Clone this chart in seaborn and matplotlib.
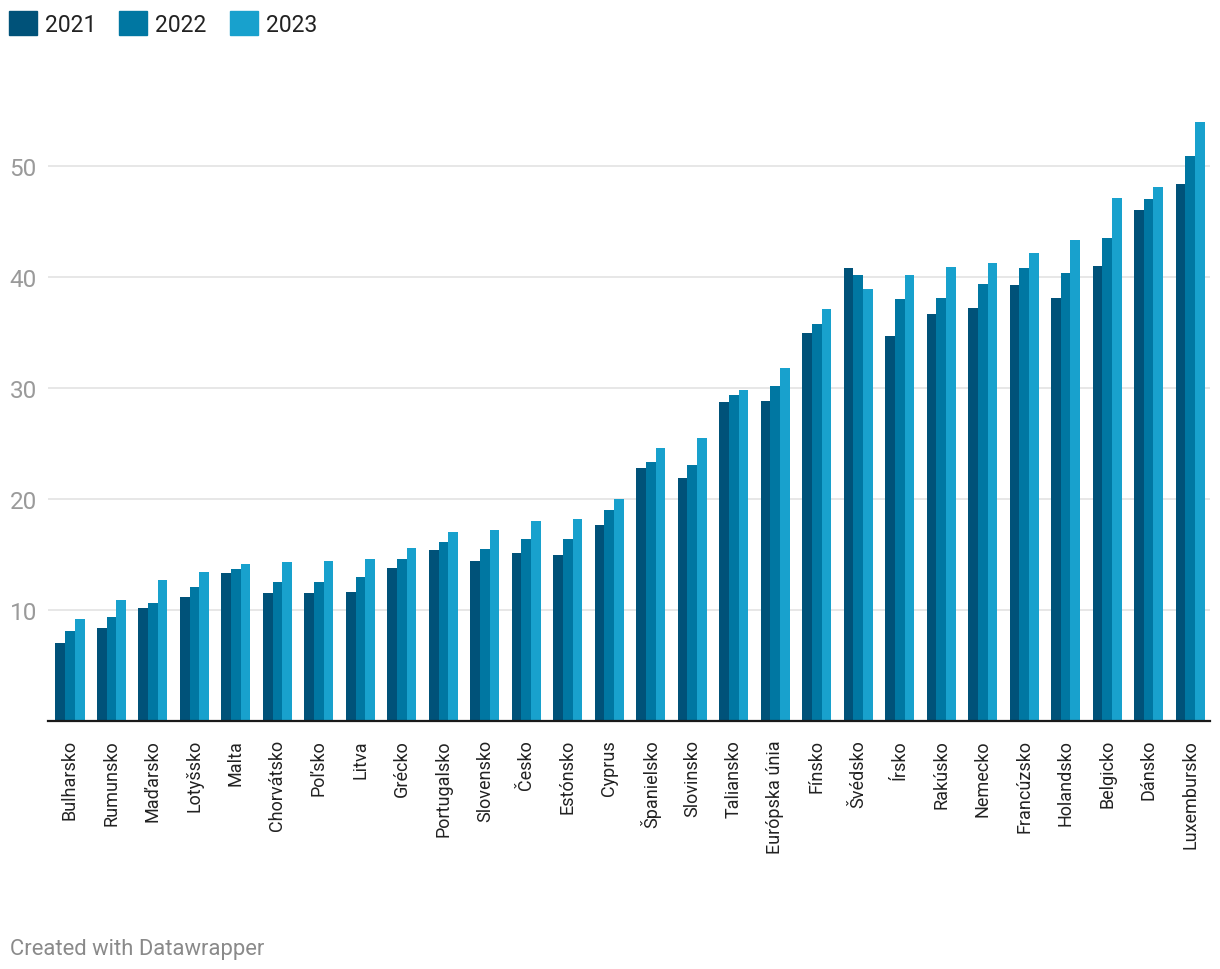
import numpy as np
import pandas as pd
import matplotlib
matplotlib.use("Agg")
import matplotlib.pyplot as plt
import seaborn as sns

krajiny = ['Bulharsko', 'Rumunsko', 'Maďarsko', 'Lotyšsko', 'Malta', 'Chorvátsko',
           'Poľsko', 'Litva', 'Grécko', 'Portugalsko', 'Slovensko', 'Česko',
           'Estónsko', 'Cyprus', 'Španielsko', 'Slovinsko', 'Taliansko',
           'Európska únia', 'Fínsko', 'Švédsko', 'Írsko', 'Rakúsko', 'Nemecko',
           'Francúzsko', 'Holandsko', 'Belgicko', 'Dánsko', 'Luxembursko']

roky = ['2021', '2022', '2023']

h2021 = [7.0, 8.4, 10.2, 11.2, 13.3, 11.5, 11.5, 11.6, 13.8, 15.4, 14.4, 15.1,
         15.0, 17.7, 22.8, 21.9, 28.7, 28.8, 35.0, 40.8, 34.7, 36.7, 37.2,
         39.3, 38.1, 41.0, 46.0, 48.4]
h2022 = [8.1, 9.4, 10.6, 12.1, 13.7, 12.5, 12.5, 13.0, 14.6, 16.1, 15.5, 16.4,
         16.4, 19.0, 23.3, 23.1, 29.4, 30.2, 35.8, 40.2, 38.0, 38.1, 39.4,
         40.8, 40.4, 43.5, 47.0, 50.9]
h2023 = [9.2, 10.9, 12.7, 13.4, 14.1, 14.3, 14.4, 14.6, 15.6, 17.0, 17.2, 18.0,
         18.2, 20.0, 24.6, 25.5, 29.8, 31.8, 37.1, 38.9, 40.2, 40.9, 41.3,
         42.2, 43.3, 47.1, 48.1, 54.0]

farby = ['#005279', '#0077a2', '#18a1cd']

df = pd.DataFrame({
    'krajina': krajiny * 3,
    'rok': np.repeat(roky, len(krajiny)),
    'hodnota': h2021 + h2022 + h2023,
})

sns.set_style('white')
plt.rcParams['font.family'] = ['Roboto', 'DejaVu Sans']

fig = plt.figure(figsize=(12.2, 9.7), dpi=100)
ax = fig.add_axes([48 / 1220, 1 - 722 / 970, 1162 / 1220, (722 - 100.4) / 970])

sns.barplot(data=df, x='krajina', y='hodnota', hue='rok', palette=farby,
            width=0.7, saturation=1, errorbar=None, ax=ax, legend=False,
            linewidth=0, edgecolor='none')

ax.set_xlim(-0.53, 27.48)
ax.set_ylim(0, 56)
ax.set_yticks([10, 20, 30, 40, 50])
ax.set_xlabel('')
ax.set_ylabel('')

ax.yaxis.grid(True, color='#e5e5e5', linewidth=1.3)
ax.set_axisbelow(True)
for s in ['top', 'right', 'left']:
    ax.spines[s].set_visible(False)
ax.spines['bottom'].set_color('#1a1a1a')
ax.spines['bottom'].set_linewidth(1.6)

ax.tick_params(axis='y', length=0, pad=8, labelsize=17.5, labelcolor='#9a9a9a')
ax.tick_params(axis='x', length=0, pad=13, labelsize=13, labelcolor='#222222')
plt.setp(ax.get_xticklabels(), rotation=90, ha='center', va='top')

handles = [plt.Rectangle((0, 0), 1, 1, color=c) for c in farby]
fig.legend(handles, roky, loc='upper left',
           bbox_to_anchor=(9 / 1220, 1 - 12 / 970), bbox_transform=fig.transFigure,
           ncol=3, frameon=False, fontsize=16.5, handlelength=1.22, handleheight=1.22,
           handletextpad=0.35, columnspacing=1.0, borderpad=0, borderaxespad=0,
           labelcolor='#222222')

fig.text(10 / 1220, 1 - 955 / 970, 'Created with Datawrapper', fontsize=15.8,
         color='#8a8a8a', ha='left', va='baseline')

fig.savefig('out.png', dpi=100)
